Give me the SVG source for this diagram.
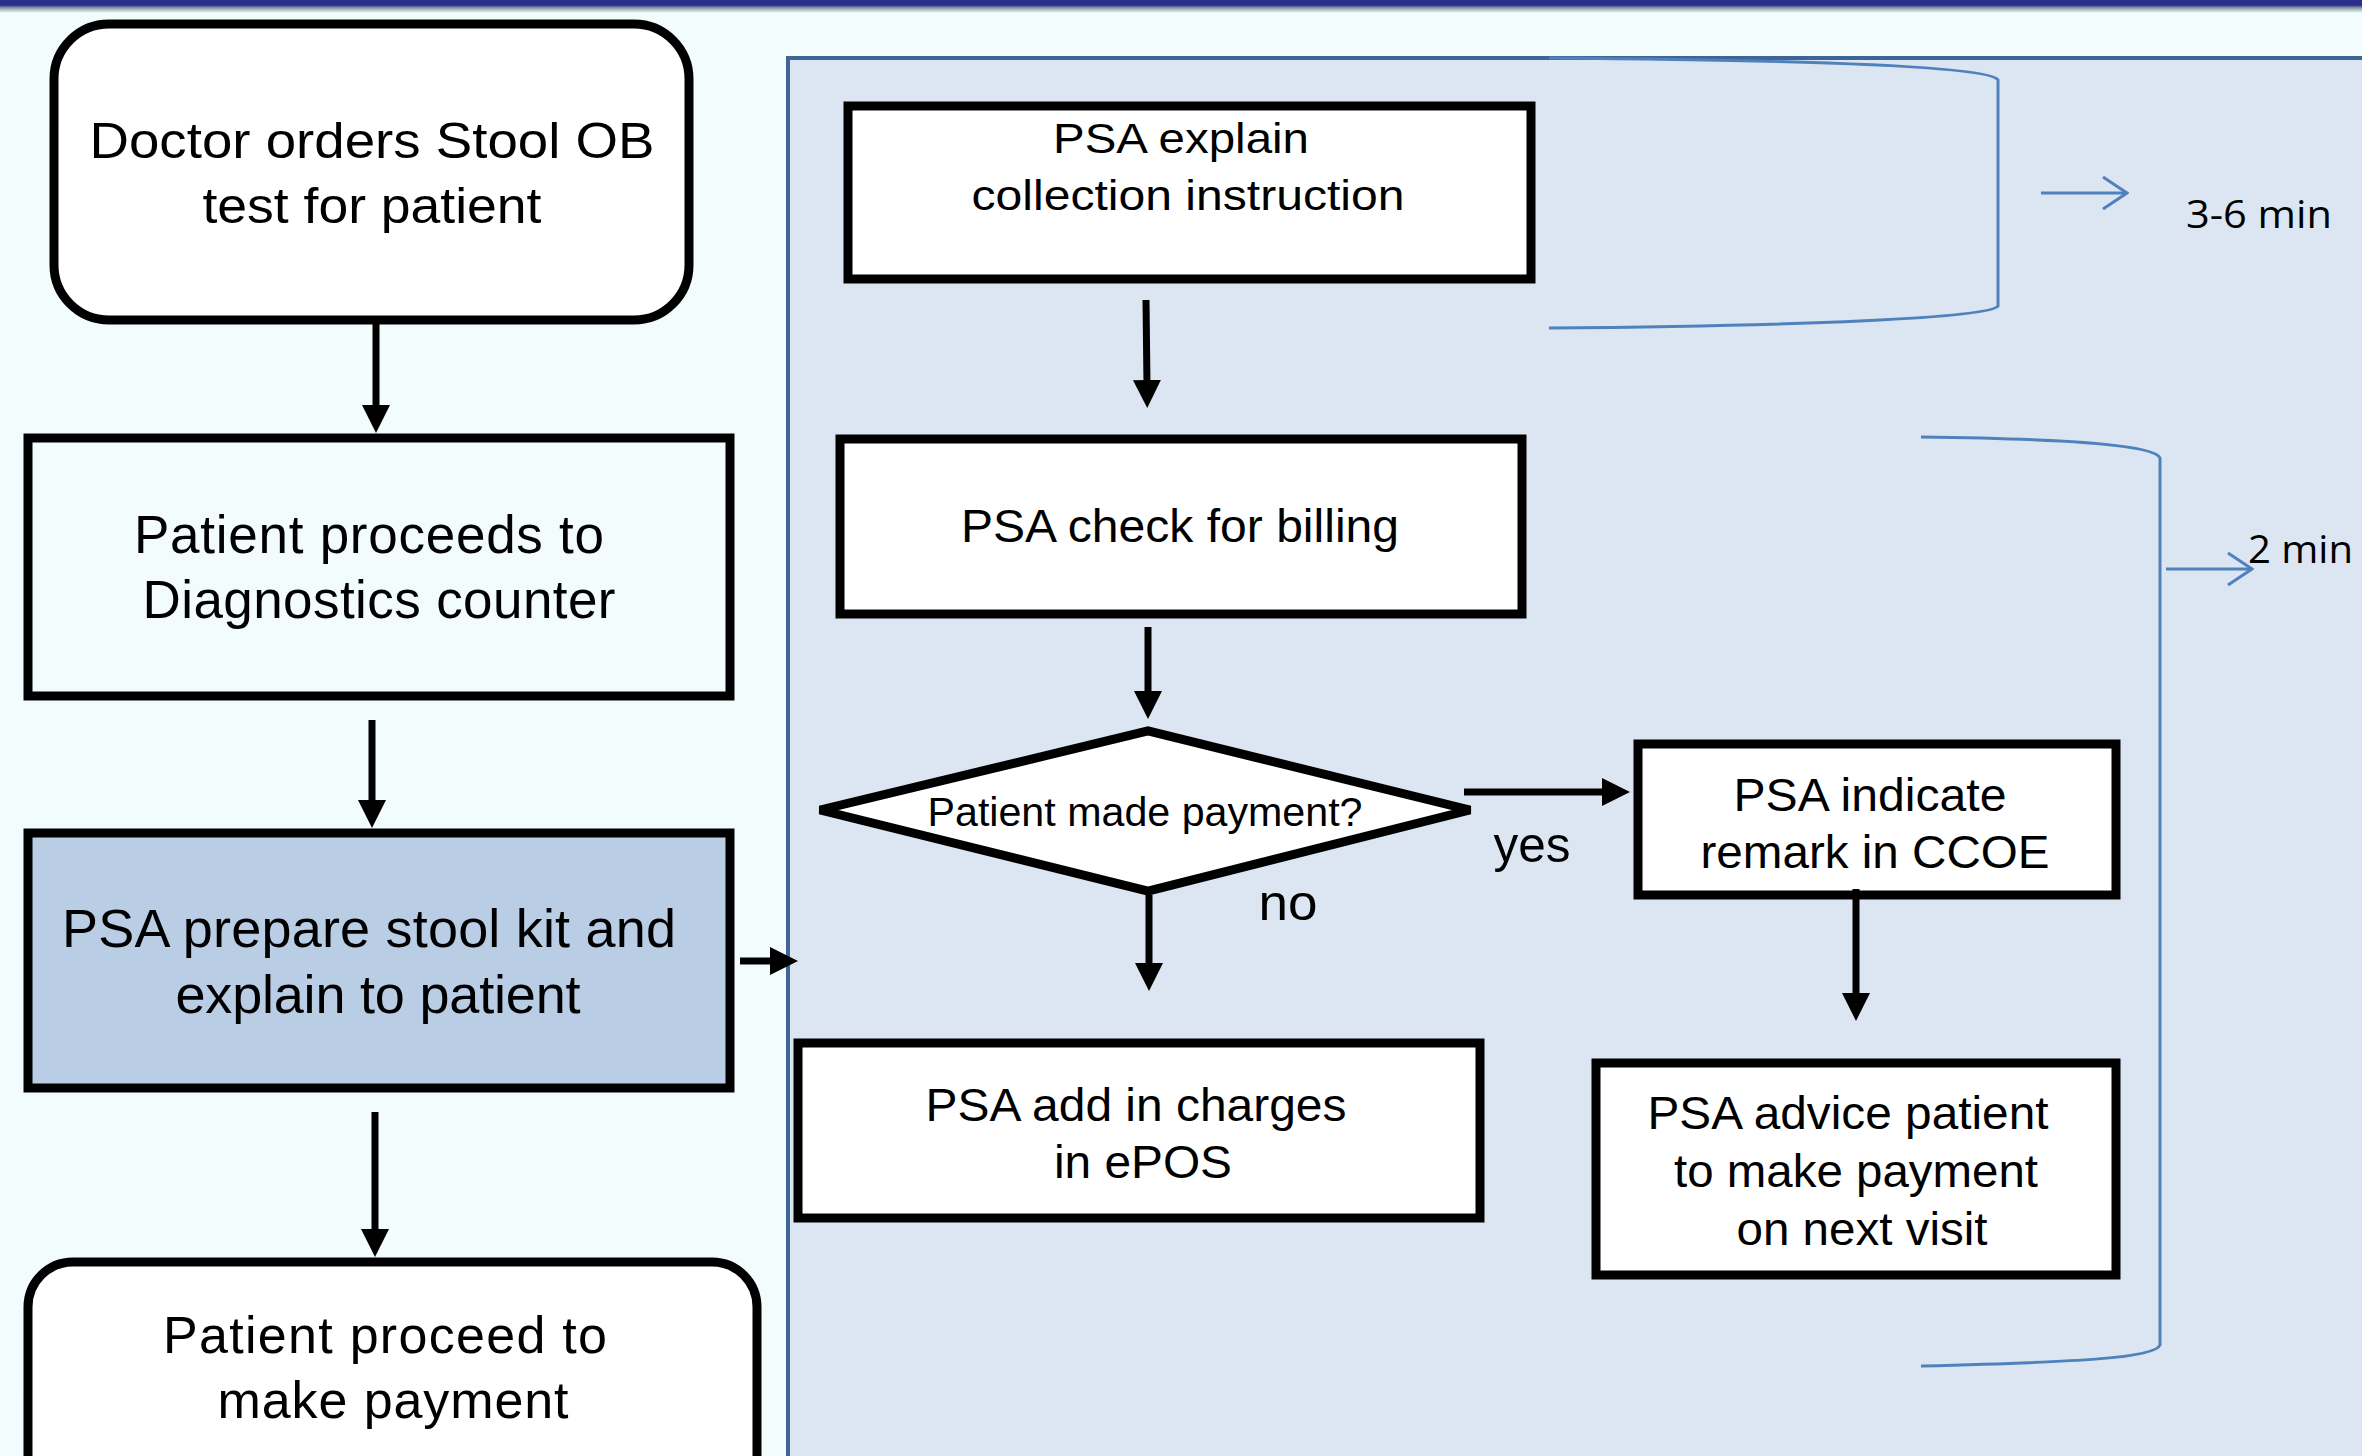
<svg xmlns="http://www.w3.org/2000/svg" width="2362" height="1456" viewBox="0 0 2362 1456">
<defs>
<linearGradient id="topshade" x1="0" y1="0" x2="0" y2="1">
<stop offset="0" stop-color="#2B2E8C"/>
<stop offset="0.4" stop-color="#2B2E8C"/>
<stop offset="0.6" stop-color="#8A9A9E"/>
<stop offset="1" stop-color="#F0FDFD"/>
</linearGradient>
<marker id="ah" markerUnits="userSpaceOnUse" markerWidth="28" markerHeight="28" refX="6" refY="14" orient="auto">
<path d="M0,0 L28,14 L0,28 z" fill="#000"/>
</marker>
<marker id="oh" markerUnits="userSpaceOnUse" markerWidth="30" markerHeight="40" refX="28" refY="20" orient="auto">
<path d="M4,4 L28,20 L4,36" fill="none" stroke="#4F81BD" stroke-width="3"/>
</marker>
</defs>
<style>
.box{stroke:#000;stroke-width:9}
.t{font-family:"Liberation Sans",Arial,sans-serif;fill:#000;text-anchor:middle}
.tp{font-size:46px}
.tm{font-family:"Open Sans","Liberation Sans",sans-serif;font-size:38px;fill:#000}
.conn{stroke:#000;stroke-width:7;fill:none;marker-end:url(#ah)}
.br{stroke:#4F81BD;stroke-width:3;fill:none}
.ba{stroke:#4F81BD;stroke-width:3;fill:none;marker-end:url(#oh)}
</style>
<rect x="0" y="0" width="2362" height="1456" fill="#F2FCFC"/>
<rect x="0" y="0" width="2362" height="13" fill="url(#topshade)"/>
<rect id="panel" x="788" y="58" width="1620" height="1450" fill="#DCE6F2" stroke="#3F6496" stroke-width="4"/>

<g id="n1">
<rect class="box" x="54" y="24" width="635" height="296" rx="55" fill="#FFFFFF"/>
<text class="t" font-size="50" x="372" y="158" textLength="565" lengthAdjust="spacingAndGlyphs">Doctor  orders  Stool  OB</text>
<text class="t" font-size="50" x="372" y="223" textLength="339" lengthAdjust="spacingAndGlyphs">test  for  patient</text>
</g>
<g id="n2">
<rect class="box" x="28" y="438" width="702" height="258" fill="#F2FCFC"/>
<text class="t" font-size="53" x="369" y="553" textLength="470" lengthAdjust="spacing">Patient proceeds to</text>
<text class="t" font-size="53" x="379" y="618" textLength="473" lengthAdjust="spacing">Diagnostics counter</text>
</g>
<g id="n3">
<rect class="box" x="28" y="833" width="702" height="255" fill="#B9CDE5"/>
<text class="t" font-size="54" x="369" y="947" textLength="614" lengthAdjust="spacing">PSA prepare stool kit and</text>
<text class="t" font-size="54" x="378" y="1013" textLength="405" lengthAdjust="spacing">explain to patient</text>
</g>
<g id="n4">
<rect class="box" x="28" y="1262" width="729" height="260" rx="45" fill="#FFFFFF"/>
<text class="t" font-size="52" x="385" y="1353" textLength="444" lengthAdjust="spacing">Patient proceed to</text>
<text class="t" font-size="52" x="393" y="1418" textLength="351" lengthAdjust="spacing">make payment</text>
</g>
<g id="n5">
<rect class="box" x="848" y="106" width="683" height="173" fill="#FFFFFF"/>
<text class="t" font-size="42" x="1181" y="153" textLength="256" lengthAdjust="spacingAndGlyphs">PSA explain</text>
<text class="t" font-size="42" x="1188" y="210" textLength="433" lengthAdjust="spacingAndGlyphs">collection instruction</text>
</g>
<g id="n6">
<rect class="box" x="840" y="439" width="682" height="175" fill="#FFFFFF"/>
<text class="t tp" x="1180" y="542" textLength="438" lengthAdjust="spacingAndGlyphs">PSA check for billing</text>
</g>
<g id="n7">
<polygon class="box" points="820,810 1148,731 1470,810 1148,891" fill="#FFFFFF"/>
<text class="t" font-size="40" x="1145" y="826" textLength="435" lengthAdjust="spacingAndGlyphs">Patient made payment?</text>
</g>
<g id="n8">
<rect class="box" x="798" y="1043" width="682" height="175" fill="#FFFFFF"/>
<text class="t tp" x="1136" y="1121" textLength="421" lengthAdjust="spacingAndGlyphs">PSA add in charges</text>
<text class="t tp" x="1143" y="1178" textLength="178" lengthAdjust="spacingAndGlyphs">in ePOS</text>
</g>
<g id="n9">
<rect class="box" x="1638" y="744" width="478" height="151" fill="#FFFFFF"/>
<text class="t tp" x="1870" y="811" textLength="273" lengthAdjust="spacingAndGlyphs">PSA indicate</text>
<text class="t tp" x="1875" y="868" textLength="349" lengthAdjust="spacingAndGlyphs">remark in CCOE</text>
</g>
<g id="n10">
<rect class="box" x="1596" y="1063" width="520" height="212" fill="#FFFFFF"/>
<text class="t tp" x="1848" y="1129" textLength="401" lengthAdjust="spacingAndGlyphs">PSA advice patient</text>
<text class="t tp" x="1856" y="1187" textLength="364" lengthAdjust="spacingAndGlyphs">to make payment</text>
<text class="t tp" x="1862" y="1245" textLength="251" lengthAdjust="spacingAndGlyphs">on next visit</text>
</g>

<g id="connectors">
<path class="conn" d="M376,324 L376,411"/>
<path class="conn" d="M372,720 L372,806"/>
<path class="conn" d="M375,1112 L375,1235"/>
<path class="conn" d="M740,961 L776,961"/>
<path class="conn" d="M1146,300 L1147,386"/>
<path class="conn" d="M1148,627 L1148,697"/>
<path class="conn" d="M1149,895 L1149,969"/>
<path class="conn" d="M1464,792 L1608,792"/>
<path class="conn" d="M1856,889 L1856,999"/>
<text class="t" font-size="50" x="1532" y="862" textLength="77" lengthAdjust="spacingAndGlyphs">yes</text>
<text class="t" font-size="50" x="1288" y="920" textLength="59" lengthAdjust="spacingAndGlyphs">no</text>
</g>

<g id="brackets">
<path class="br" d="M1549,58 C1800,60 1990,66 1998,80 L1998,306 C1990,318 1800,326 1549,328"/>
<path class="ba" d="M2041,193 L2127,193"/>
<text class="tm" x="2186" y="228" textLength="146" lengthAdjust="spacingAndGlyphs">3-6 min</text>
<path class="br" d="M1921,437 C2080,439 2155,446 2160,458 L2160,1345 C2155,1358 2080,1362 1921,1366"/>
<path class="ba" d="M2166,569 L2252,569"/>
<text class="tm" x="2248" y="563" textLength="105" lengthAdjust="spacingAndGlyphs">2 min</text>
</g>
</svg>
